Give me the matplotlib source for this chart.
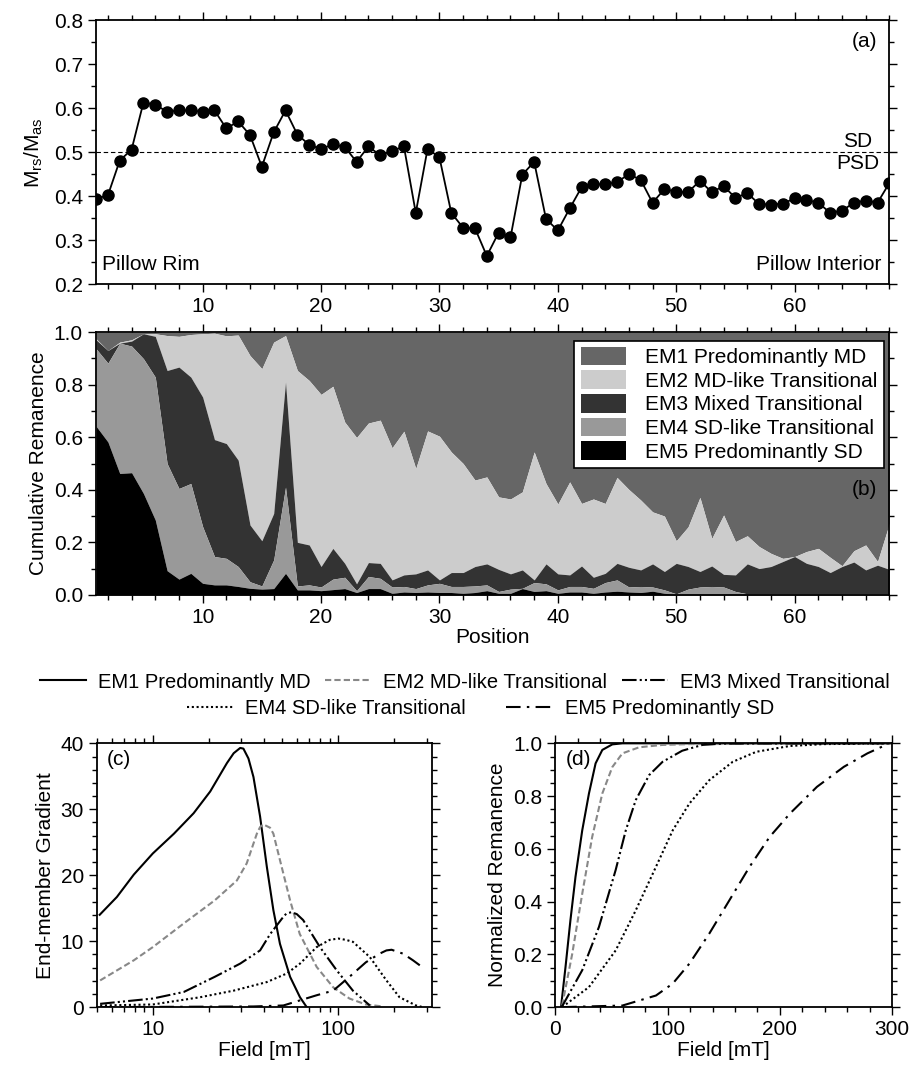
import matplotlib
matplotlib.use('Agg')
import matplotlib.pyplot as plt
from matplotlib.ticker import MultipleLocator, FormatStrFormatter
from matplotlib.patches import Patch
from matplotlib.lines import Line2D
import numpy as np

plt.rcParams['font.family'] = ['Liberation Sans', 'DejaVu Sans']
plt.rcParams['font.size'] = 15
plt.rcParams['mathtext.default'] = 'regular'

# (a) Mrs/Mas along the profile
position = np.arange(1, 69)
mrs_mas = [0.394, 0.402, 0.481, 0.506, 0.613, 0.608, 0.592, 0.595, 0.595, 0.592,
           0.595, 0.554, 0.570, 0.539, 0.467, 0.545, 0.595, 0.540, 0.517, 0.507,
           0.518, 0.512, 0.478, 0.513, 0.493, 0.503, 0.513, 0.362, 0.508, 0.488,
           0.362, 0.328, 0.327, 0.264, 0.317, 0.306, 0.449, 0.478, 0.348, 0.322,
           0.372, 0.420, 0.427, 0.427, 0.432, 0.450, 0.437, 0.385, 0.416, 0.410,
           0.409, 0.435, 0.409, 0.423, 0.396, 0.407, 0.382, 0.381, 0.383, 0.395,
           0.391, 0.385, 0.362, 0.367, 0.385, 0.390, 0.385, 0.430]

# (b) cumulative tops of the stacked end members (EM5 at bottom)
em5_top = [0.642, 0.582, 0.462, 0.465, 0.386, 0.285, 0.092, 0.060, 0.082, 0.044,
           0.038, 0.038, 0.032, 0.025, 0.022, 0.024, 0.082, 0.019, 0.019, 0.016,
           0.020, 0.024, 0.009, 0.024, 0.024, 0.006, 0.011, 0.009, 0.011, 0.009,
           0.009, 0.006, 0.009, 0.016, 0.006, 0.006, 0.024, 0.013, 0.016, 0.006,
           0.011, 0.011, 0.006, 0.011, 0.014, 0.011, 0.009, 0.014, 0.006, 0.001,
           0.003, 0.003, 0.003, 0.003, 0.003, 0.003, 0.003, 0.003, 0.003, 0.003,
           0.003, 0.003, 0.003, 0.003, 0.003, 0.003, 0.003, 0.003]
em4_top = [0.937, 0.882, 0.958, 0.947, 0.899, 0.829, 0.500, 0.405, 0.424, 0.260,
           0.146, 0.139, 0.108, 0.050, 0.034, 0.133, 0.410, 0.034, 0.038, 0.030,
           0.060, 0.067, 0.016, 0.070, 0.063, 0.030, 0.032, 0.024, 0.038, 0.044,
           0.032, 0.032, 0.034, 0.038, 0.013, 0.022, 0.025, 0.047, 0.042, 0.019,
           0.032, 0.032, 0.025, 0.047, 0.057, 0.030, 0.032, 0.030, 0.019, 0.004,
           0.022, 0.030, 0.032, 0.030, 0.013, 0.004, 0.004, 0.004, 0.004, 0.004,
           0.004, 0.004, 0.004, 0.004, 0.004, 0.004, 0.004, 0.004]
em3_top = [0.971, 0.930, 0.958, 0.966, 0.994, 0.984, 0.854, 0.867, 0.829, 0.753,
           0.591, 0.576, 0.513, 0.266, 0.206, 0.310, 0.810, 0.200, 0.190, 0.108,
           0.177, 0.120, 0.042, 0.123, 0.120, 0.057, 0.076, 0.080, 0.095, 0.057,
           0.085, 0.085, 0.108, 0.118, 0.097, 0.080, 0.095, 0.057, 0.118, 0.080,
           0.076, 0.110, 0.067, 0.082, 0.120, 0.105, 0.095, 0.118, 0.089, 0.120,
           0.108, 0.089, 0.110, 0.078, 0.076, 0.118, 0.100, 0.108, 0.127, 0.146,
           0.120, 0.108, 0.085, 0.108, 0.125, 0.095, 0.113, 0.097]
em2_top = [0.975, 0.930, 0.962, 0.971, 0.994, 0.994, 0.987, 0.984, 0.991, 0.994,
           0.996, 0.986, 0.989, 0.911, 0.861, 0.962, 0.987, 0.854, 0.816, 0.763,
           0.794, 0.658, 0.599, 0.654, 0.665, 0.560, 0.623, 0.481, 0.624, 0.604,
           0.544, 0.500, 0.437, 0.449, 0.373, 0.365, 0.392, 0.544, 0.424, 0.346,
           0.430, 0.348, 0.365, 0.348, 0.447, 0.401, 0.361, 0.316, 0.300, 0.206,
           0.259, 0.371, 0.215, 0.304, 0.203, 0.225, 0.184, 0.158, 0.139, 0.146,
           0.165, 0.177, 0.143, 0.111, 0.168, 0.190, 0.127, 0.272]

em_names = ['EM1 Predominantly MD', 'EM2 MD-like Transitional', 'EM3 Mixed Transitional',
            'EM4 SD-like Transitional', 'EM5 Predominantly SD']
em_fill = ['#666666', '#cccccc', '#333333', '#999999', '#000000']

# (c) end-member gradients vs field (log axis)
f1 = [5.17, 6.4, 7.9, 10, 13.0, 16.6, 20.4, 25.1, 27.3, 29.6, 30.8, 32.8, 34.9, 37.9, 41.2, 44.7, 48.5, 55, 62.2, 67.6]
g1 = [14.0, 16.7, 20.1, 23.3, 26.3, 29.4, 32.7, 37.0, 38.5, 39.3, 39.2, 37.7, 34.9, 28.9, 21.3, 14.7, 9.6, 4.6, 1.5, 0.0]
f2 = [5.2, 7.9, 10, 14.7, 21.6, 28.4, 32.1, 36.4, 37.9, 39.5, 42.9, 44.7, 48.5, 55, 62, 76.5, 94, 115, 141, 174]
g2 = [4.05, 7.1, 9.1, 12.7, 16.2, 19.2, 21.8, 26.3, 27.3, 27.7, 27.2, 26.3, 22.3, 16.2, 11.1, 6.1, 3.0, 1.3, 0.4, 0.1]
f3 = [5.2, 10, 14.7, 21.6, 29.6, 37.9, 43, 50.6, 52.6, 56, 59.8, 64.7, 79.7, 98, 120, 148]
g3 = [0.5, 1.3, 2.3, 4.6, 6.6, 8.6, 11.1, 13.7, 14.2, 14.4, 14.1, 13.2, 9.1, 5.6, 2.5, 0.25]
f4 = [5.2, 10, 18.0, 27.3, 41.2, 52.8, 62.2, 76.5, 90, 100, 110, 120, 148, 182, 214, 263, 286]
g4 = [0.25, 0.4, 1.5, 2.5, 3.8, 5.1, 6.6, 9.1, 10.2, 10.4, 10.2, 9.9, 7.6, 4.05, 1.5, 0.25, 0.0]
f5 = [5.2, 34.9, 50.6, 76.5, 94, 115, 141, 167, 182, 194, 224, 253, 286]
g5 = [0.0, 0.1, 0.25, 1.8, 2.5, 4.6, 6.8, 8.1, 8.6, 8.7, 8.1, 7.1, 6.0]

# (d) normalized cumulative remanence vs field (linear axis)
h1 = [5, 9, 13.4, 17.9, 23.9, 29.9, 35.8, 41.8, 50.7, 59.7, 300]
r1 = [0.0, 0.152, 0.33, 0.494, 0.67, 0.81, 0.924, 0.975, 0.996, 1.0, 1.0]
h2 = [6, 14.9, 23.9, 32.8, 41.8, 50.7, 59.7, 74.6, 95.5, 119, 300]
r2 = [0.006, 0.2, 0.43, 0.646, 0.81, 0.91, 0.962, 0.985, 0.994, 0.997, 1.0]
h3 = [6, 23.9, 38.8, 53.7, 62.7, 71.6, 83.6, 95.5, 113, 131, 149, 300]
r3 = [0.003, 0.14, 0.304, 0.52, 0.67, 0.785, 0.88, 0.93, 0.972, 0.994, 0.999, 1.0]
h4 = [6, 29.9, 53.7, 71.6, 89.6, 104.5, 119.4, 137, 158, 179, 209, 239, 298]
r4 = [0.0, 0.076, 0.215, 0.367, 0.532, 0.67, 0.772, 0.86, 0.93, 0.968, 0.99, 0.997, 1.0]
h5 = [6, 59.7, 89.6, 104.5, 119.4, 137, 155, 173, 191, 209, 233, 257, 278, 296]
r5 = [0.0, 0.006, 0.044, 0.089, 0.165, 0.278, 0.405, 0.532, 0.646, 0.734, 0.835, 0.911, 0.962, 0.997]

line_styles = [
    dict(color='black', ls='-'),
    dict(color='#888888', ls=(0, (3, 1.5))),
    dict(color='black', ls=(0, (7, 1.5, 1, 1.5, 1, 1.5))),
    dict(color='black', ls=(0, (1, 1.3))),
    dict(color='black', ls=(0, (7, 3, 1.2, 3))),
]

fig = plt.figure(figsize=(9.15, 10.68), dpi=100)


def style_ticks(ax):
    ax.tick_params(which='both', direction='out', top=True, right=True, width=1)
    ax.tick_params(which='major', length=6)
    ax.tick_params(which='minor', length=3.5)
    for s in ax.spines.values():
        s.set_linewidth(1.3)


# ---- (a)
ax_a = fig.add_axes([0.105, 0.734, 0.867, 0.247])
ax_a.axhline(0.5, color='black', lw=0.8, ls=(0, (4, 2.5)))
ax_a.plot(position, mrs_mas, '-o', color='black', lw=1.3, ms=8)
ax_a.set_xlim(1, 68)
ax_a.set_ylim(0.2, 0.8)
ax_a.xaxis.set_major_locator(MultipleLocator(10))
ax_a.xaxis.set_minor_locator(MultipleLocator(2))
ax_a.yaxis.set_major_locator(MultipleLocator(0.1))
ax_a.yaxis.set_minor_locator(MultipleLocator(0.05))
ax_a.set_ylabel('M$_{rs}$/M$_{as}$', labelpad=6)
style_ticks(ax_a)
ax_a.text(0.985, 0.92, '(a)', transform=ax_a.transAxes, ha='right', va='center')
ax_a.text(65.3, 0.503, 'SD', ha='center', va='bottom')
ax_a.text(65.3, 0.497, 'PSD', ha='center', va='top')
ax_a.text(0.008, 0.04, 'Pillow Rim', transform=ax_a.transAxes, ha='left', va='bottom')
ax_a.text(0.99, 0.04, 'Pillow Interior', transform=ax_a.transAxes, ha='right', va='bottom')

# ---- (b)
ax_b = fig.add_axes([0.105, 0.443, 0.867, 0.246])
zeros = np.zeros(len(position))
ones = np.ones(len(position))
layers = [(em2_top, ones), (em3_top, em2_top), (em4_top, em3_top), (em5_top, em4_top), (zeros, em5_top)]
for (lo, hi), c in zip(layers, em_fill):
    ax_b.fill_between(position, lo, hi, color=c, lw=0)
ax_b.set_xlim(1, 68)
ax_b.set_ylim(0, 1)
ax_b.xaxis.set_major_locator(MultipleLocator(10))
ax_b.xaxis.set_minor_locator(MultipleLocator(2))
ax_b.yaxis.set_major_locator(MultipleLocator(0.2))
ax_b.yaxis.set_minor_locator(MultipleLocator(0.1))
ax_b.yaxis.set_major_formatter(FormatStrFormatter('%.1f'))
ax_b.set_ylabel('Cumulative Remanence')
ax_b.set_xlabel('Position', labelpad=1)
style_ticks(ax_b)
handles = [Patch(facecolor=c, edgecolor='none') for c in em_fill]
leg = ax_b.legend(handles, em_names, loc='upper right', bbox_to_anchor=(0.993, 0.968),
                  fancybox=False, framealpha=1, edgecolor='black', fontsize=15,
                  handlelength=2.2, handleheight=1.0, labelspacing=0.15, borderpad=0.3,
                  handletextpad=0.9, borderaxespad=0)
leg.get_frame().set_linewidth(1.2)
ax_b.text(0.985, 0.40, '(b)', transform=ax_b.transAxes, ha='right', va='center')

# ---- shared line legend
lhandles = [Line2D([], [], lw=1.5, color=s['color'], ls=s['ls']) for s in line_styles]
fig.legend(lhandles[:3], em_names[:3], loc='center', bbox_to_anchor=(0.508, 1 - 682 / 1068),
           ncol=3, frameon=False, handlelength=2.3, columnspacing=0.7, handletextpad=0.6,
           fontsize=14.5)
fig.legend(lhandles[3:], em_names[3:], loc='center', bbox_to_anchor=(0.525, 1 - 709 / 1068),
           ncol=2, frameon=False, handlelength=2.3, columnspacing=2.0, handletextpad=0.6,
           fontsize=14.5)

# ---- (c)
ax_c = fig.add_axes([0.106, 0.057, 0.366, 0.247])
for f, g, s in zip([f1, f2, f3, f4, f5], [g1, g2, g3, g4, g5], line_styles):
    ax_c.plot(f, g, color=s['color'], ls=s['ls'], lw=1.5)
ax_c.set_xscale('log')
ax_c.set_xlim(5, 320)
ax_c.set_ylim(0, 40)
ax_c.yaxis.set_major_locator(MultipleLocator(10))
ax_c.yaxis.set_minor_locator(MultipleLocator(2))
ax_c.set_xticks([10, 100])
ax_c.set_xticklabels(['10', '100'])
ax_c.set_ylabel('End-member Gradient')
ax_c.set_xlabel('Field [mT]', labelpad=1)
style_ticks(ax_c)
ax_c.text(0.03, 0.94, '(c)', transform=ax_c.transAxes, ha='left', va='center')

# ---- (d)
ax_d = fig.add_axes([0.607, 0.057, 0.368, 0.247])
for h, r, s in zip([h1, h2, h3, h4, h5], [r1, r2, r3, r4, r5], line_styles):
    ax_d.plot(h, r, color=s['color'], ls=s['ls'], lw=1.5)
ax_d.set_xlim(0, 300)
ax_d.set_ylim(0, 1)
ax_d.xaxis.set_major_locator(MultipleLocator(100))
ax_d.xaxis.set_minor_locator(MultipleLocator(20))
ax_d.yaxis.set_major_locator(MultipleLocator(0.2))
ax_d.yaxis.set_minor_locator(MultipleLocator(0.05))
ax_d.yaxis.set_major_formatter(FormatStrFormatter('%.1f'))
ax_d.set_ylabel('Normalized Remanence')
ax_d.set_xlabel('Field [mT]', labelpad=1)
style_ticks(ax_d)
ax_d.text(0.03, 0.94, '(d)', transform=ax_d.transAxes, ha='left', va='center')

plt.savefig('out.png', dpi=100)
